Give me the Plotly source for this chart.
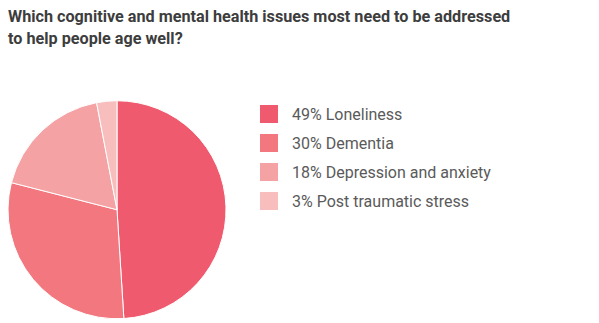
import plotly.graph_objects as go

# Survey answers and their shares
labels = ["Loneliness", "Dementia", "Depression and anxiety", "Post traumatic stress"]
values = [49, 30, 18, 3]
colors = ["#EF5A6E", "#F2777E", "#F5A2A4", "#F8BEBD"]
title_lines = [
    "Which cognitive and mental health issues most need to be addressed",
    "to help people age well?",
]

W, H = 599, 323

def px_x(x):
    return x / W

def px_y(y):
    return 1 - y / H

fig = go.Figure(
    go.Pie(
        labels=labels,
        values=values,
        sort=False,
        direction="clockwise",
        rotation=0,
        marker=dict(colors=colors, line=dict(color="white", width=1)),
        textinfo="none",
        hoverinfo="label+percent",
        showlegend=False,
        domain=dict(x=[px_x(8), px_x(226)], y=[px_y(319.5), px_y(100)]),
    )
)

# Two-line bold title
annotations = []
for j, line in enumerate(title_lines):
    annotations.append(dict(
        text="<b>" + line + "</b>",
        x=px_x(6), y=px_y(16 + j * 22), xref="paper", yref="paper",
        xanchor="left", yanchor="middle", align="left", showarrow=False,
        font=dict(family="Roboto", size=16.2, color="#3d3d3d"),
    ))

# Hand-built legend: colour squares with value + label
shapes = []
row0, step, box = 114, 29, 18
for i, (lab, val, col) in enumerate(zip(labels, values, colors)):
    cy = row0 + i * step
    shapes.append(dict(
        type="rect", xref="paper", yref="paper",
        x0=px_x(260), x1=px_x(260 + box),
        y0=px_y(cy + box / 2), y1=px_y(cy - box / 2),
        fillcolor=col, line=dict(width=0),
    ))
    annotations.append(dict(
        text=f"{val}% {lab}",
        x=px_x(290), y=px_y(cy), xref="paper", yref="paper",
        xanchor="left", yanchor="middle", showarrow=False,
        font=dict(family="Roboto", size=16, color="#5a5a5a"),
    ))

fig.update_layout(
    width=W, height=H,
    margin=dict(l=0, r=0, t=0, b=0),
    paper_bgcolor="white", plot_bgcolor="white",
    annotations=annotations, shapes=shapes,
)

fig.write_html("out.html")
